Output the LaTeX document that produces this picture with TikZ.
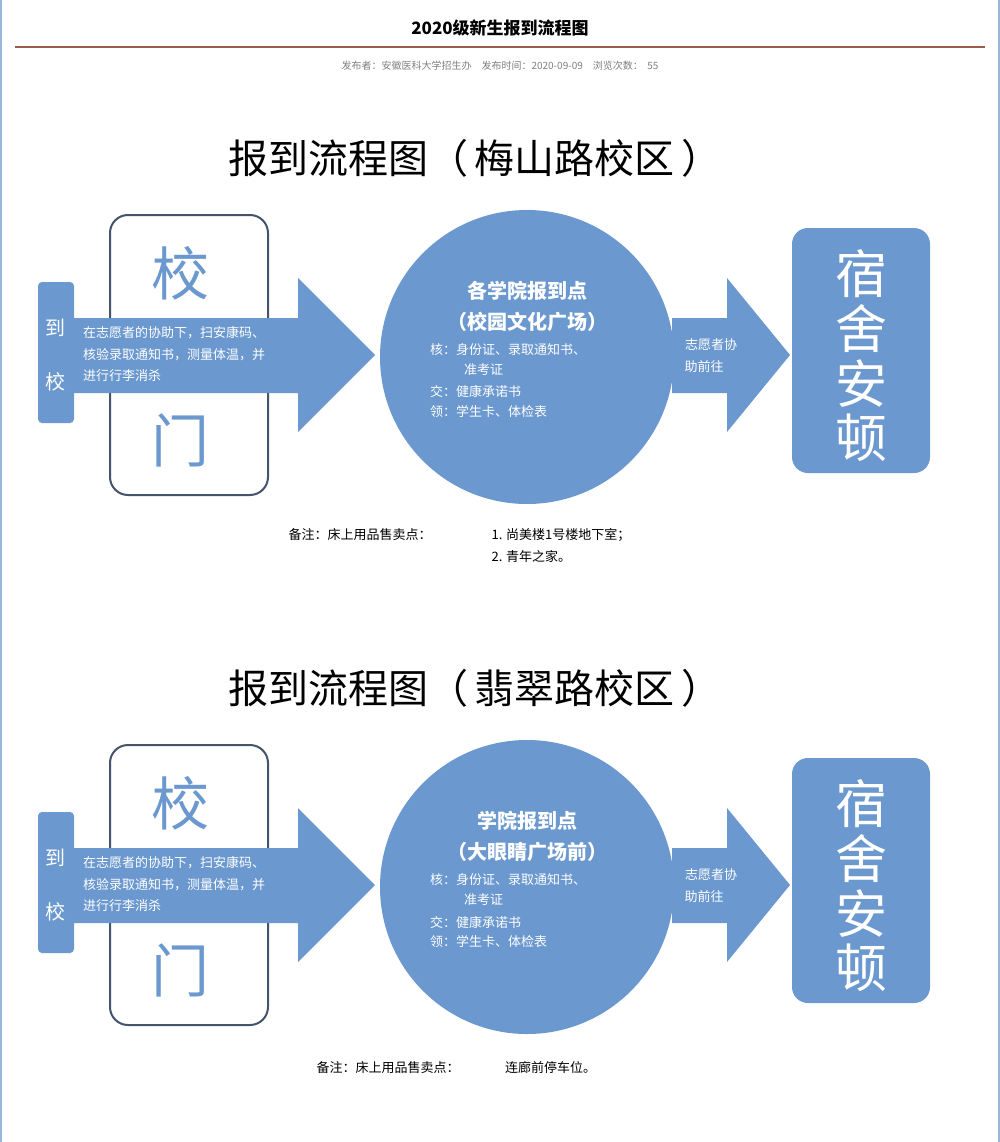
\documentclass[tikz,border=0pt]{standalone}
\usepackage{fontspec}
\setmainfont{Noto Sans CJK SC}
\definecolor{fb}{HTML}{6A98CF}
\definecolor{gb}{HTML}{44546A}
\definecolor{rl}{HTML}{9C5A48}
\begin{document}
\begin{tikzpicture}[x=1pt,y=-1pt,
  wt/.style={text=white,inner sep=0pt},
  small/.style={wt,font=\fontsize{13}{13}\selectfont,anchor=west},
  big/.style={wt,font=\fontsize{52}{52}\selectfont},
  ]
\useasboundingbox (0,0) rectangle (1000,1142);
\fill[white] (0,0) rectangle (1000,1142);
\draw[fb!70,line width=2pt] (1,0) -- (1,1142);
\draw[fb!70,line width=2pt] (999,0) -- (999,1142);
\node (title) at (500,28) {\fontsize{17}{17}\selectfont\bfseries 2020级新生报到流程图};
\draw[rl,line width=1.5pt] (15,47) -- (985,47);
\node[text=gray] (meta) at (500,66) {\fontsize{10}{10}\selectfont 发布者：安徽医科大学招生办\quad 发布时间：2020-09-09\quad 浏览次数：\ \ 55};
\foreach \dy/\name/\place/\sub/\notea in {0/A/梅山路校区/各学院报到点/校园文化广场, 530/B/翡翠路校区/学院报到点/大眼睛广场前}{
\begin{scope}[yshift=-\dy]
\node (h\name) at (475,158) {\fontsize{40}{40}\selectfont 报到流程图（\,\place\,）};
\draw[gb,line width=2pt,rounded corners=18pt,fill=white] (110,215) rectangle (268,495);
\node[text=fb] (g1\name) at (180,273) {\fontsize{58}{58}\selectfont 校};
\node[text=fb] (g2\name) at (180,440) {\fontsize{58}{58}\selectfont 门};
\fill[fb,rounded corners=4pt] (38,282) rectangle (74,423);
\node[wt] (d1\name) at (55,328) {\fontsize{20}{20}\selectfont 到};
\node[wt] (d2\name) at (55,382) {\fontsize{20}{20}\selectfont 校};
\fill[fb] (72,318) -- (298,318) -- (298,278) -- (375,355) -- (298,432) -- (298,393) -- (72,393) -- cycle;
\node[small] (t1\name) at (83,333) {在志愿者的协助下，扫安康码、};
\node[small] (t2\name) at (83,355) {核验录取通知书，测量体温，并};
\node[small] (t3\name) at (83,376) {进行行李消杀};
\fill[fb] (527,357) circle (147);
\node[wt] (c1\name) at (527,291) {\fontsize{20}{20}\selectfont\bfseries \sub};
\node[wt] (c2\name) at (527,322) {\fontsize{20}{20}\selectfont\bfseries （\notea）};
\node[small] (c3\name) at (430,350) {核：身份证、录取通知书、};
\node[small] (c4\name) at (464,370) {准考证};
\node[small] (c5\name) at (430,392) {交：健康承诺书};
\node[small] (c6\name) at (430,412) {领：学生卡、体检表};
\fill[fb] (672,318) -- (727,318) -- (727,278) -- (790,355) -- (727,432) -- (727,393) -- (672,393) -- cycle;
\node[wt] (v1\name) at (711,345) {\fontsize{13}{13}\selectfont 志愿者协};
\node[wt] (v2\name) at (704,367) {\fontsize{13}{13}\selectfont 助前往};
\fill[fb,rounded corners=16pt] (792,228) rectangle (930,473);
\node[big] (r1\name) at (861,274) {宿};
\node[big] (r2\name) at (861,329) {舍};
\node[big] (r3\name) at (861,384) {安};
\node[big] (r4\name) at (861,438) {顿};
\end{scope}
}
\node[anchor=west] (n1) at (285,535) {\fontsize{13}{13}\selectfont 备注：床上用品售卖点：};
\node[anchor=west] (n2) at (488,535) {\fontsize{13}{13}\selectfont 1. 尚美楼1号楼地下室；};
\node[anchor=west] (n3) at (488,557) {\fontsize{13}{13}\selectfont 2. 青年之家。};
\node[anchor=west] (n4) at (313,1068) {\fontsize{13}{13}\selectfont 备注：床上用品售卖点：\hspace{3.5em}连廊前停车位。};
\end{tikzpicture}
\end{document}
